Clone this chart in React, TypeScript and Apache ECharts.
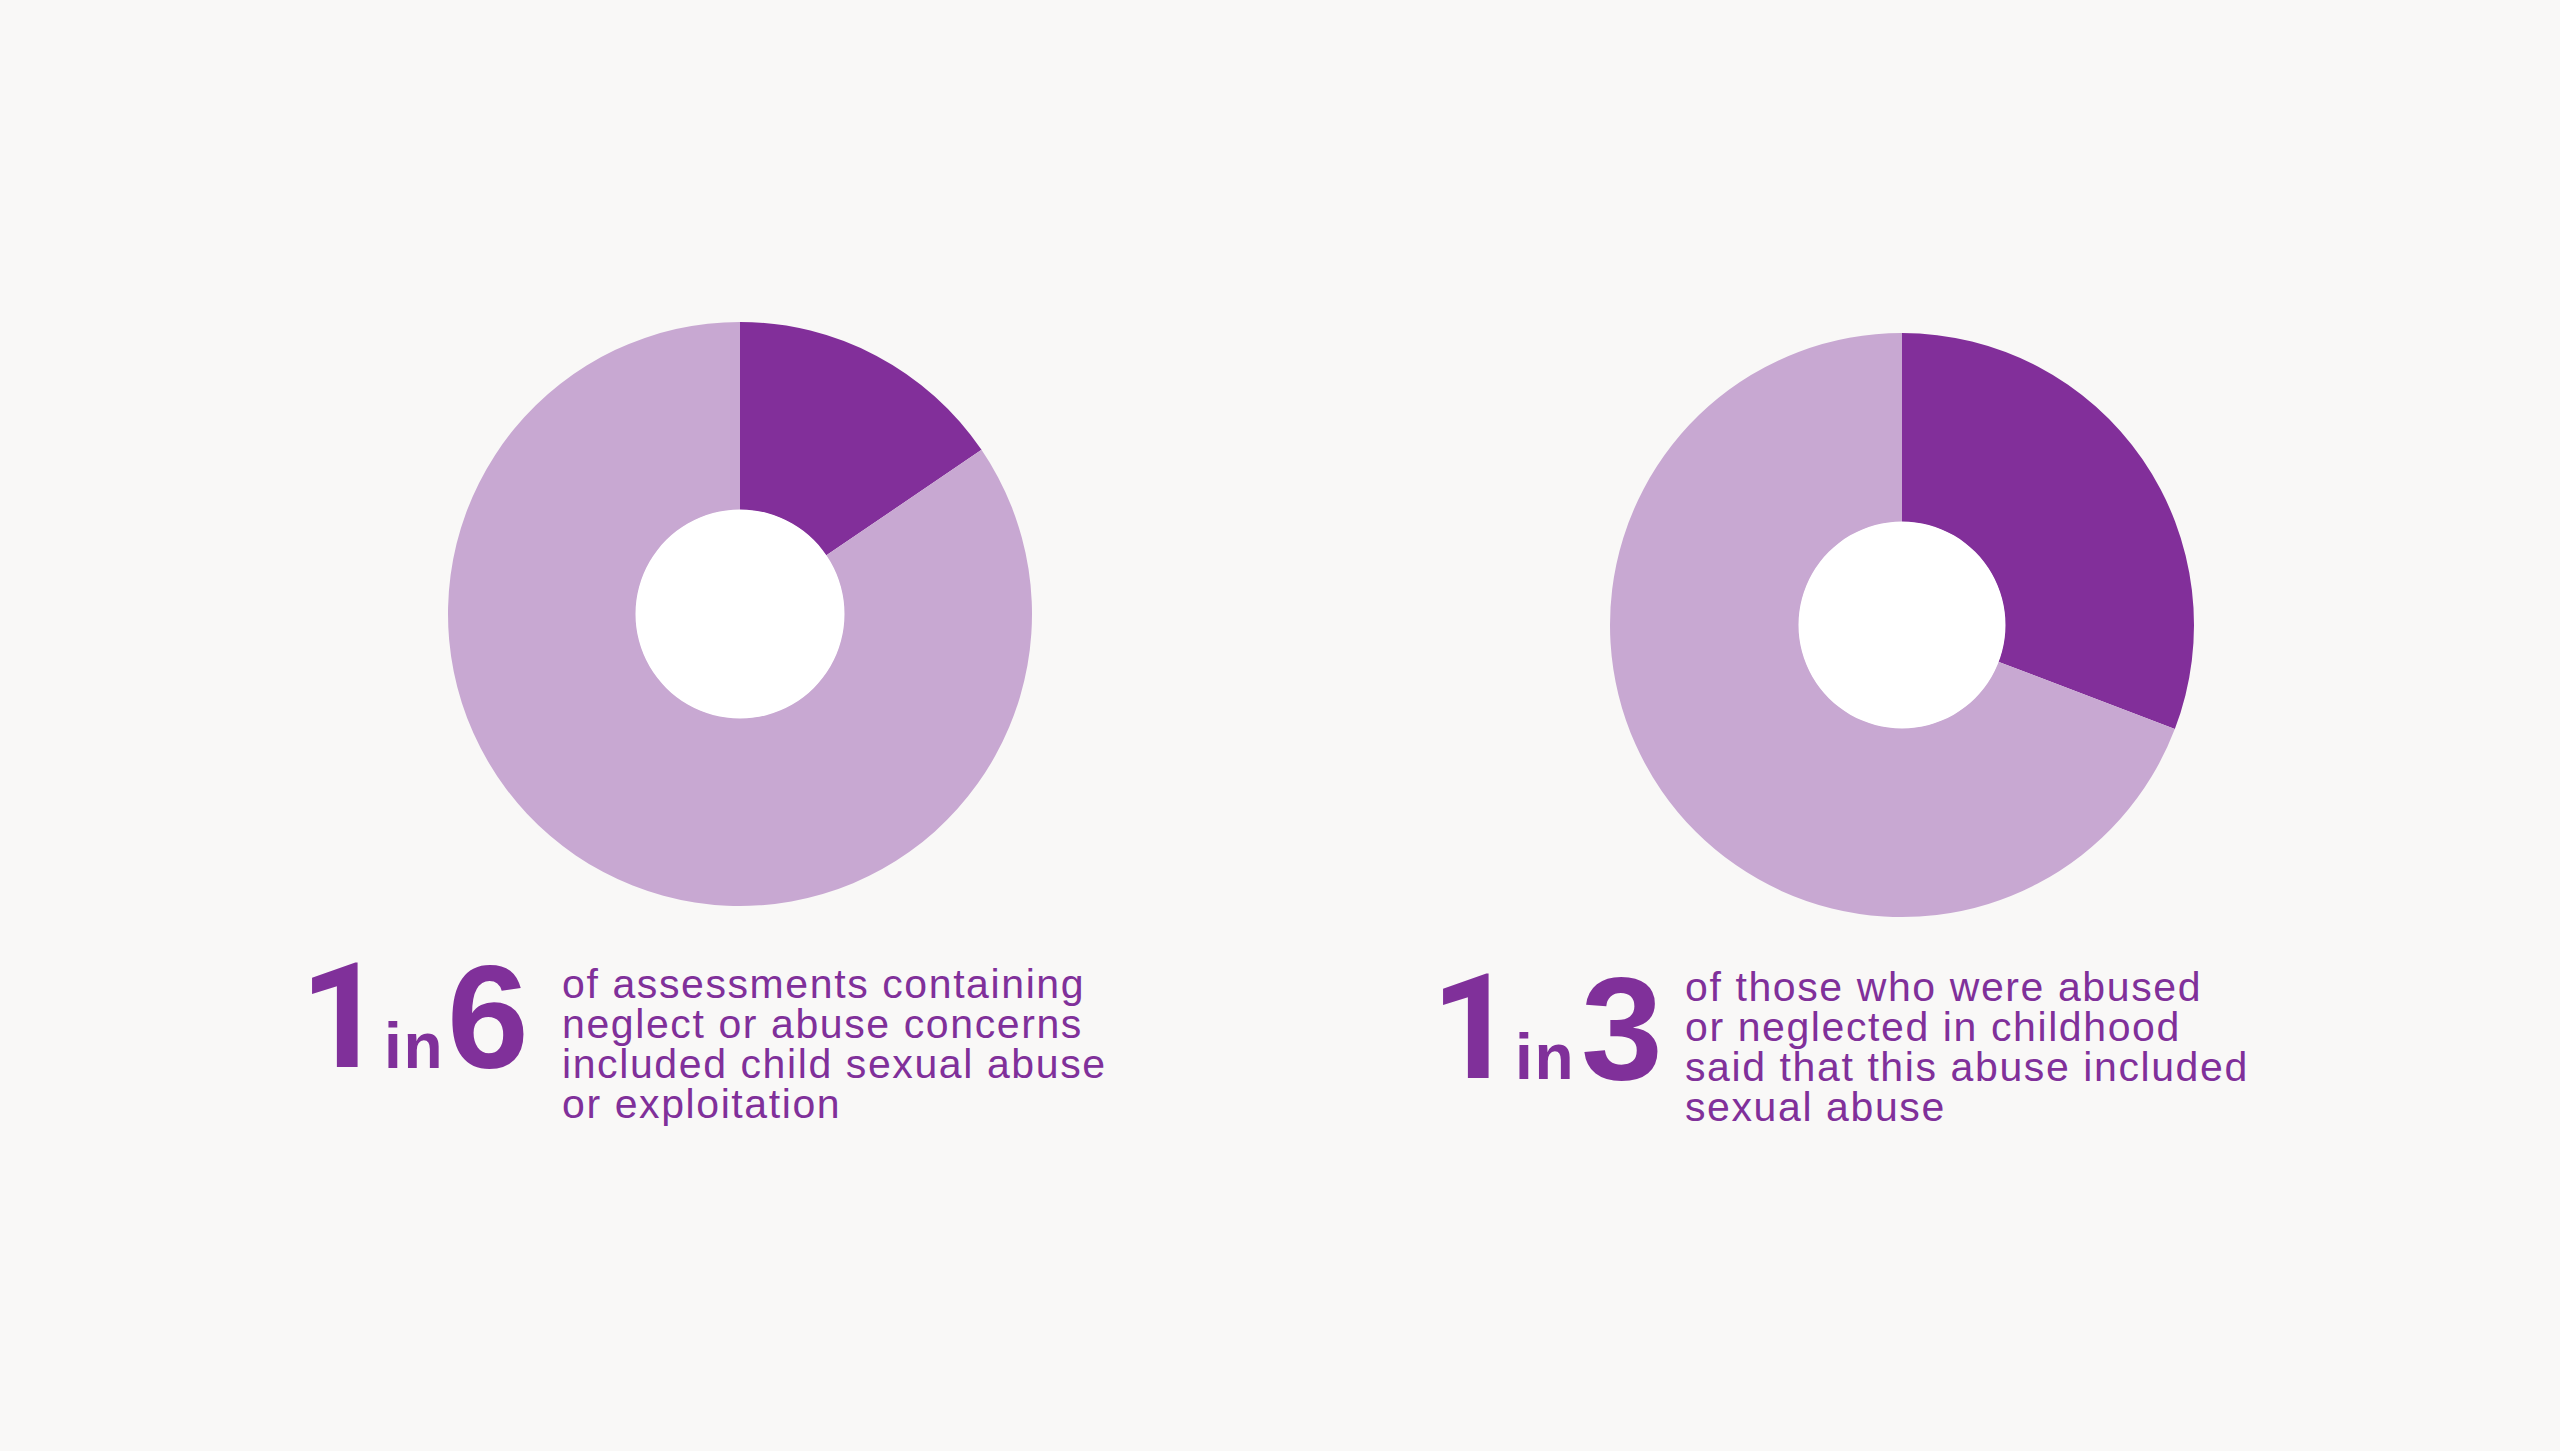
import React, { useEffect, useRef } from "react";
import * as echarts from "echarts";

// ---- data ----
const sliceNames = ["Included sexual abuse", "Other"];
const sharePercent = [15.5, 30.8]; // dark slice of each donut
const restPercent = [84.5, 69.2]; // light slice of each donut
const numerators = ["1", "1"];
const denominators = ["6", "3"];
const captionLeft = [
  "of assessments containing",
  "neglect or abuse concerns",
  "included child sexual abuse",
  "or exploitation",
];
const captionRight = [
  "of those who were abused",
  "or neglected in childhood",
  "said that this abuse included",
  "sexual abuse",
];

const DARK = "#822f9a";
const LIGHT = "#c8a8d2";
const TEXT = "#80309a";
const BG = "#f9f8f7";

export default function App() {
  const ref = useRef<HTMLDivElement>(null);

  useEffect(() => {
    if (!ref.current) return;
    const chart = echarts.init(ref.current, undefined, { renderer: "svg" });

    const centers = [
      [740, 614],
      [1902, 625],
    ];
    const holes = [104, 103];
    const captions = [captionLeft, captionRight];

    const series: any[] = [];
    centers.forEach((c, i) => {
      series.push({
        type: "pie",
        center: c,
        radius: [holes[i], 292],
        startAngle: 90,
        clockwise: true,
        silent: true,
        label: { show: false },
        labelLine: { show: false },
        itemStyle: { borderWidth: 0 },
        data: [
          { name: sliceNames[0], value: sharePercent[i], itemStyle: { color: DARK } },
          { name: sliceNames[1], value: restPercent[i], itemStyle: { color: LIGHT } },
        ],
      });
      series.push({
        type: "pie",
        center: c,
        radius: [0, holes[i] + 0.5],
        silent: true,
        label: { show: false },
        labelLine: { show: false },
        data: [{ name: "hole", value: 1, itemStyle: { color: "#ffffff" } }],
      });
    });

    // text layout per group
    const groups = [
      { one: 300, inX: 384, den: 447, bigBase: 1068, capX: 562, capBase: 998 },
      { one: 1431, inX: 1515, den: 1581, bigBase: 1079, capX: 1685, capBase: 1001 },
    ];
    const mid = 0.3465;
    const bigFs = 147;
    const inFs = 64;
    const capFs = 41;
    const capLh = 40;
    const graphics: any[] = [];
    groups.forEach((g, i) => {
      const mk = (
        text: string,
        x: number,
        base: number,
        fs: number,
        weight: string,
        lh: number,
        family = '"Liberation Sans", Arial, sans-serif'
      ) => ({
        type: "text",
        x,
        y: base - mid * fs,
        silent: true,
        style: {
          text,
          font: `${weight} ${fs}px ${family}`,
          lineHeight: lh,
          fill: TEXT,
          align: "left",
          verticalAlign: "middle",
        },
      });
      graphics.push(mk(numerators[i], g.one, g.bigBase, bigFs, "bold", 110, 'Roboto, "Liberation Sans", sans-serif'));
      graphics.push(mk("in", g.inX, g.bigBase, inFs, "bold", 50));
      graphics.push(mk(denominators[i], g.den, g.bigBase, bigFs, "bold", 110));
      // caption as one multi-line text block
      graphics.push({
        type: "text",
        x: g.capX,
        y: g.capBase - capLh / 2 - mid * capFs,
        silent: true,
        style: {
          text: captions[i].join("\n"),
          font: `normal ${capFs}px "Liberation Sans", Arial, sans-serif`,
          lineHeight: capLh,
          fill: TEXT,
          align: "left",
          verticalAlign: "top",
        },
      });
    });

    chart.setOption({
      animation: false,
      backgroundColor: BG,
      series,
      graphic: { elements: graphics },
    });

    const onResize = () => chart.resize();
    window.addEventListener("resize", onResize);
    return () => {
      window.removeEventListener("resize", onResize);
      chart.dispose();
    };
  }, []);

  return (
    <>
      <style>{`body{margin:0;background:${BG};} .chart-wrap text{letter-spacing:1.6px;}`}</style>
      <div
        ref={ref}
        className="chart-wrap"
        style={{ position: "fixed", left: 0, top: 0, width: "100vw", height: "100vh" }}
      />
    </>
  );
}
